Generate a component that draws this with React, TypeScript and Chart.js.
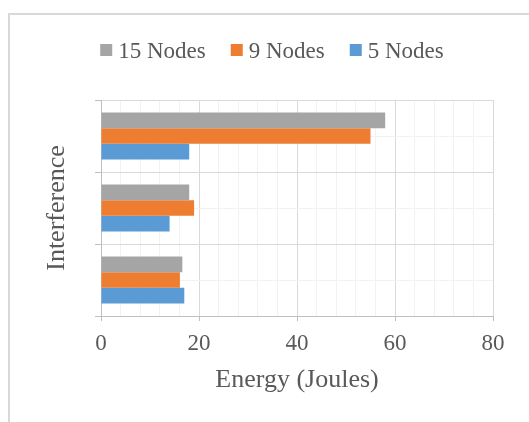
import { useEffect, useRef } from "react";
import { Chart, registerables } from "chart.js";

Chart.register(...registerables);

// Groups along the vertical axis (unlabelled on the chart), top to bottom
const categories = ["Group 1", "Group 2", "Group 3"];

// Series names, legend order = bar order inside each group
const seriesLabels = ["15 Nodes", "9 Nodes", "5 Nodes"];
const nodes15 = [58, 18, 16.6];
const nodes9 = [55, 19, 16.1];
const nodes5 = [18, 14, 17];
const seriesColors = ["#a5a5a5", "#ed7d31", "#5b9bd5"];

// Value axis
const xMin = 0;
const xMax = 80;
const xMajorStep = 20;
const xMinorStep = 4;
const xTitle = "Energy (Joules)";
const yTitle = "Interference";

const FONT = '"Liberation Serif", "Times New Roman", serif';
const TEXT = "#595959";
const MAJOR = "#d9d9d9";
const MINOR = "#f2f2f2";
const AXIS = "#bfbfbf";
const CLEAR = "rgba(0,0,0,0)";

// Thin outer frame around the whole figure
const framePlugin = {
  id: "outerFrame",
  beforeDraw(chart: any) {
    const { ctx } = chart;
    ctx.save();
    ctx.strokeStyle = MAJOR;
    ctx.lineWidth = 2;
    ctx.strokeRect(9, 14, 1000, 1000);
    ctx.restore();
  },
};

// Compact legend row: small square swatch followed by the series name
const legendPlugin = {
  id: "seriesLegend",
  afterDraw(chart: any) {
    const { ctx } = chart;
    ctx.save();
    ctx.font = `23px ${FONT}`;
    ctx.textBaseline = "alphabetic";
    ctx.textAlign = "left";
    const box = 12;
    const gap = 6;
    const spacing = 25;
    const items = chart.data.datasets.map((ds: any) => ({
      text: ds.label as string,
      color: ds.backgroundColor as string,
      w: ctx.measureText(ds.label).width,
    }));
    const total =
      items.reduce((s: number, it: any) => s + box + gap + it.w, 0) +
      spacing * (items.length - 1);
    const centerX = 272;
    let x = centerX - total / 2;
    for (const it of items) {
      ctx.fillStyle = it.color;
      ctx.fillRect(x, 44, box, box);
      ctx.fillStyle = TEXT;
      ctx.fillText(it.text, x + box + gap, 58);
      x += box + gap + it.w + spacing;
    }
    ctx.restore();
  },
};

export default function App() {
  const canvasRef = useRef<HTMLCanvasElement | null>(null);

  useEffect(() => {
    const canvas = canvasRef.current;
    if (!canvas) return;
    const values = [nodes15, nodes9, nodes5];
    const chart = new Chart(canvas, {
      type: "bar",
      data: {
        labels: categories,
        datasets: seriesLabels.map((label, i) => ({
          label,
          data: values[i],
          backgroundColor: seriesColors[i],
          borderWidth: 0,
          barPercentage: 1,
          categoryPercentage: 0.65,
        })),
      },
      options: {
        indexAxis: "y",
        responsive: false,
        devicePixelRatio: 1,
        animation: false,
        layout: { padding: { top: 100, right: 36, bottom: 0, left: 0 } },
        plugins: {
          legend: { display: false },
          tooltip: { enabled: false },
        },
        scales: {
          x: {
            type: "linear",
            position: "bottom",
            min: xMin,
            max: xMax,
            ticks: {
              stepSize: xMinorStep,
              autoSkip: false,
              maxRotation: 0,
              color: TEXT,
              font: { family: FONT, size: 23 },
              padding: 9,
              callback: (v: any) => (Number(v) % xMajorStep === 0 ? String(v) : ""),
            },
            grid: {
              color: (c: any) =>
                c.tick && c.tick.value % xMajorStep === 0 ? MAJOR : MINOR,
              tickColor: (c: any) =>
                c.tick && c.tick.value % xMajorStep === 0 ? AXIS : CLEAR,
              tickLength: 5,
            },
            border: { color: AXIS },
            title: {
              display: true,
              text: xTitle,
              color: TEXT,
              font: { family: FONT, size: 26 },
              padding: { top: 0, bottom: 26 },
            },
            afterFit: (s: any) => {
              s.height = 106;
            },
          },
          y: {
            type: "category",
            display: false,
            offset: true,
          },
          // Group dividers (even values) and half-group guides (odd values)
          y2: {
            type: "linear",
            position: "left",
            min: 0,
            max: categories.length * 2,
            offset: false,
            ticks: { stepSize: 1, display: false },
            grid: {
              offset: false,
              color: (c: any) =>
                c.tick && c.tick.value % 2 === 0 ? MAJOR : MINOR,
              tickColor: (c: any) =>
                c.tick && c.tick.value % 2 === 0 ? AXIS : CLEAR,
              tickLength: 6,
            },
            border: { color: AXIS },
            title: {
              display: true,
              text: yTitle,
              color: TEXT,
              font: { family: FONT, size: 26 },
              padding: { top: 42, bottom: 0 },
            },
            afterFit: (s: any) => {
              s.width = 101;
            },
          },
        },
      } as any,
      plugins: [framePlugin, legendPlugin],
    });
    return () => chart.destroy();
  }, []);

  return (
    <div style={{ position: "absolute", left: 0, top: 0, width: 529, height: 422 }}>
      <canvas ref={canvasRef} width={529} height={422} />
    </div>
  );
}
